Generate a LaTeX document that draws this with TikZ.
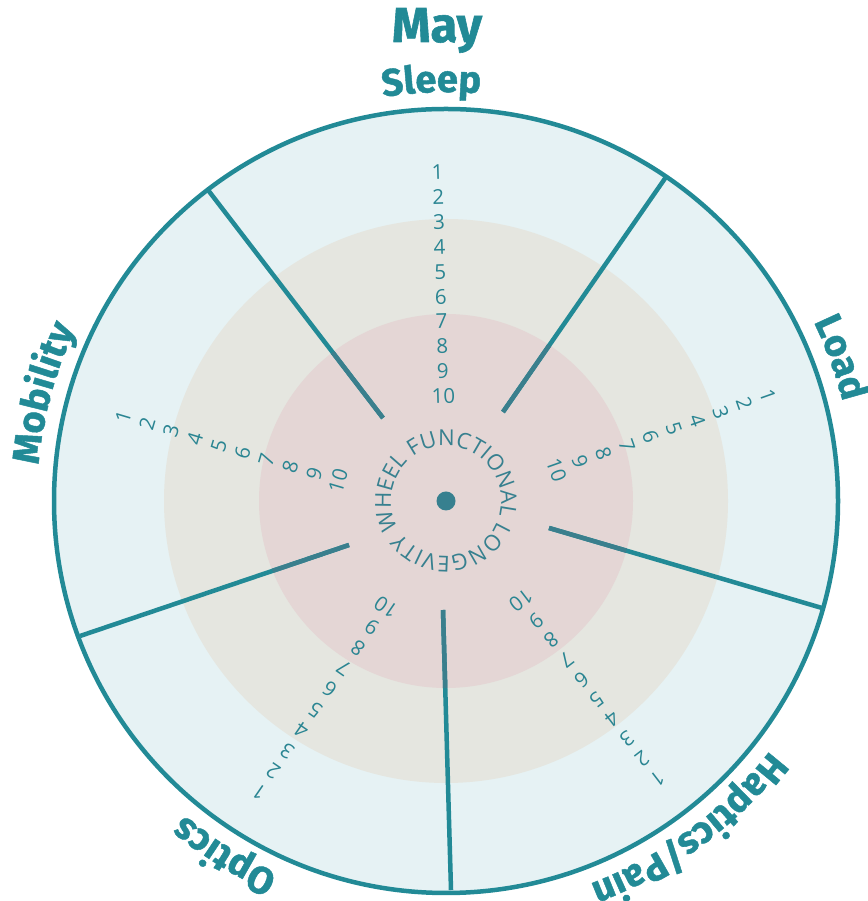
\documentclass[tikz,border=0pt]{standalone}
\usepackage{fontspec}
\newfontfamily\osans{Open Sans}
\newfontfamily\lfam{Fira Sans}[BoldFeatures={FakeBold=1.2}]
\usetikzlibrary{calc,decorations.text}
\definecolor{teal1}{HTML}{228A96}
\definecolor{tealdark}{HTML}{3A7F8D}
\definecolor{ringout}{HTML}{E6F2F4}
\definecolor{ringmid}{HTML}{E5E6E0}
\definecolor{ringin}{HTML}{E4D6D5}
\definecolor{numcol}{HTML}{2A8592}
\definecolor{dotcol}{HTML}{37808F}
\newcommand\labfont{\lfam\bfseries\fontsize{38}{38}\selectfont}
\newcommand\cwfont{\osans\fontsize{22}{22}\selectfont}
\begin{document}
\begin{tikzpicture}[x=1pt,y=1pt,
  spoke/.style={draw=teal1, line width=4.5},
  spokein/.style={draw=tealdark, line width=4.5},
  num/.style={text=numcol, font=\osans\fontsize{20.5}{20.5}\selectfont, inner sep=0pt},
  lab/.style={decorate, decoration={text along path, text align=center, text color=teal1}}]
\useasboundingbox (0,0) rectangle (867,901);
\coordinate (C) at (446,400);
\coordinate (C2) at (449,390);
\fill[ringout] (C) circle[radius=392];
\fill[ringmid] (C) circle[radius=282];
\fill[ringin] (C) circle[radius=187];
% spokes
\coordinate (s1i) at (383,483); \coordinate (s1o) at (208,711);
\coordinate (s2i) at (503,489); \coordinate (s2o) at (666,724);
\coordinate (s3i) at (549,373); \coordinate (s3o) at (822,293);
\coordinate (s4i) at (443,291); \coordinate (s4o) at (451,11);
\coordinate (s5i) at (349,356); \coordinate (s5o) at (80,265);
\foreach \i in {1,...,5}{\draw[spoke] (s\i i) -- (s\i o);}
\begin{scope}
\clip (C) circle[radius=187];
\foreach \i in {1,...,5}{\draw[spokein] (s\i i) -- (s\i o);}
\end{scope}
\draw[teal1, line width=4.5] (C) circle[radius=392];
\fill[dotcol] (C) circle[radius=9.5];
% numbers
\foreach \s in {0,...,4}{
  \foreach \k in {1,...,10}{
    \pgfmathsetmacro\th{91.5-72*\s}
    \node[num, rotate=\th-90, name=n\s-\k] at ($(C2)+(\th:{339-24.9*(\k-1)})+({\th-90}:-2.5)$) {\k};
  }
}
% central curved text
\path[decorate, decoration={text along path, text align={fit to path}, text color=dotcol,
  text={|\cwfont|FUNCTIONAL LONGEVITY WHEEL}}]
  ($(C)+(127:55)$) arc[start angle=127, end angle=-227, radius=55];
% sector labels
\path[lab, decoration={text={|\labfont|Sleep}}] ($(C)+(132:409)$) arc[start angle=132, end angle=52, radius=409];
\path[lab, decoration={text={|\labfont|Load}}] ($(C)+(60:409)$) arc[start angle=60, end angle=-20, radius=409];
\path[lab, decoration={text={|\labfont|Haptics/Pain}}] ($(C)+(-13.5:409)$) arc[start angle=-13.5, end angle=-93.5, radius=409];
\path[lab, decoration={text={|\labfont|Optics}}] ($(C)+(-82:409)$) arc[start angle=-82, end angle=-162, radius=409];
\path[lab, decoration={text={|\labfont|Mobility}}] ($(C)+(205:409)$) arc[start angle=205, end angle=125, radius=409];
\node[text=teal1, font=\lfam\bfseries\fontsize{49}{49}\selectfont, anchor=base, inner sep=0pt] (title) at (437,859) {May};
\end{tikzpicture}
\end{document}
